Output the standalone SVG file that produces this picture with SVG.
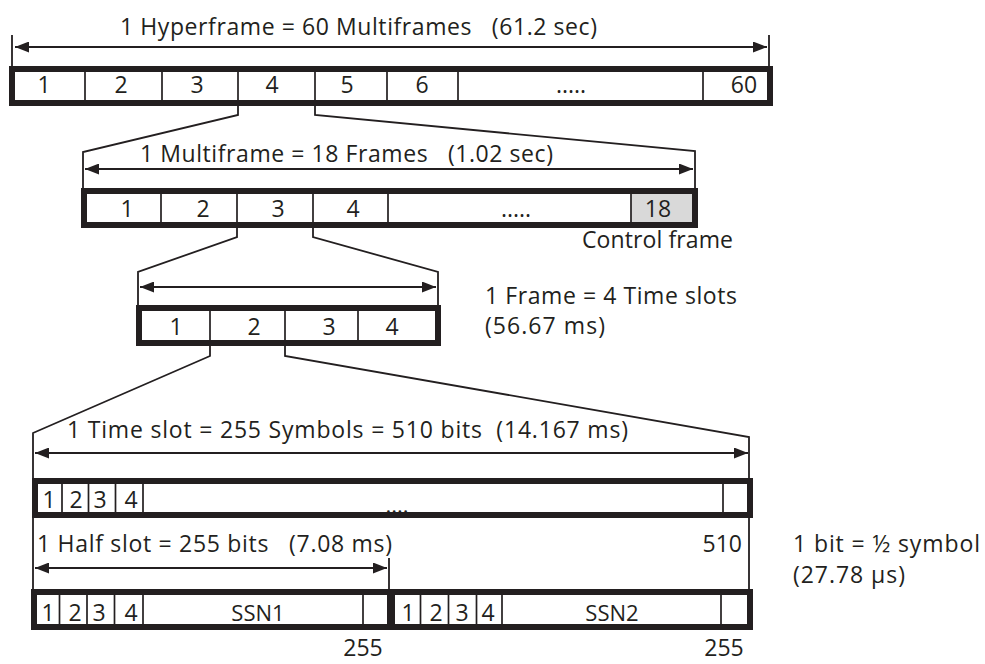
<svg xmlns="http://www.w3.org/2000/svg" width="985" height="664" viewBox="0 0 985 664">
<style>
  .bar { fill: none; stroke: #231f20; stroke-width: 6; }
  .dv { stroke: #231f20; stroke-width: 1.7; fill: none; }
  .conn { fill: none; stroke: #231f20; stroke-width: 1.8; }
  .dim { stroke: #231f20; stroke-width: 2; marker-start: url(#ah); marker-end: url(#ah); }
  text { font-family: "Open Sans", "Liberation Sans", Arial, sans-serif; fill: #231f20; }
  .lbl { font-size: 23px; }
  .cell { font-size: 23px; text-anchor: middle; }
  .sm { font-size: 23px; text-anchor: middle; }
  .ssn { font-size: 22px; text-anchor: middle; }
</style>
<defs>
  <marker id="ah" viewBox="0 0 14 11" refX="14" refY="5.5" markerWidth="14" markerHeight="11" markerUnits="userSpaceOnUse" orient="auto-start-reverse">
    <path d="M0,0 L14,5.5 L0,11 z" fill="#231f20"/>
  </marker>
</defs>
<rect width="985" height="664" fill="#ffffff"/>

<g id="connectors">
  <path class="conn" d="M12,35 V66 M769,35 V66"/>
  <line class="dim" x1="15" y1="47" x2="767" y2="47"/>
  <polyline class="conn" points="238,106 238,115 83,152 83,188"/>
  <polyline class="conn" points="315,106 315,115 695,151 695,188"/>
  <line class="dim" x1="85" y1="169" x2="693" y2="169"/>
  <polyline class="conn" points="237,228 237,237 138,272 138,305"/>
  <polyline class="conn" points="313,228 313,237 438,272 438,305"/>
  <line class="dim" x1="140" y1="287" x2="436" y2="287"/>
  <polyline class="conn" points="210,346 210,356 33,433 33,589"/>
  <polyline class="conn" points="285,346 285,356 749,437 749,589"/>
  <line class="dim" x1="35" y1="453" x2="748" y2="453"/>
  <path class="conn" d="M389,558 V589"/>
  <line class="dim" x1="35" y1="568" x2="387" y2="568"/>
</g>

<g id="hyperframe">
  <text class="lbl" x="120" y="35" xml:space="preserve" textLength="477">1 Hyperframe = 60 Multiframes   (61.2 sec)</text>
  <rect x="12" y="69" width="758" height="34" fill="#ffffff"/>
  <path class="dv" d="M85,69 V103 M162,69 V103 M238,69 V103 M315,69 V103 M387,69 V103 M458,69 V103 M703,69 V103"/>
  <text class="cell" x="44" y="93">1</text>
  <text class="cell" x="121" y="93">2</text>
  <text class="cell" x="197" y="93">3</text>
  <text class="cell" x="272" y="93">4</text>
  <text class="cell" x="347" y="93">5</text>
  <text class="cell" x="422" y="93">6</text>
  <text class="cell" x="571" y="93">.....</text>
  <text class="cell" x="744" y="93">60</text>
  <rect class="bar" x="12" y="69" width="758" height="34"/>
</g>

<g id="multiframe">
  <text class="lbl" x="140" y="162" xml:space="preserve" textLength="413">1 Multiframe = 18 Frames   (1.02 sec)</text>
  <rect x="84" y="191" width="611" height="34" fill="#ffffff"/>
  <rect x="631" y="191" width="64" height="34" fill="#d9d9d9"/>
  <path class="dv" d="M161,191 V225 M237,191 V225 M313,191 V225 M388,191 V225 M631,191 V225"/>
  <text class="cell" x="127" y="217">1</text>
  <text class="cell" x="203" y="217">2</text>
  <text class="cell" x="278" y="217">3</text>
  <text class="cell" x="353" y="217">4</text>
  <text class="cell" x="516" y="217">.....</text>
  <text class="cell" x="658" y="217">18</text>
  <rect class="bar" x="84" y="191" width="611" height="34"/>
  <text class="lbl" x="582" y="248" textLength="151">Control frame</text>
</g>

<g id="frame">
  <rect x="139" y="308" width="299" height="35" fill="#ffffff"/>
  <path class="dv" d="M210,308 V343 M285,308 V343 M358,308 V343"/>
  <text class="cell" x="176" y="335">1</text>
  <text class="cell" x="254" y="335">2</text>
  <text class="cell" x="329" y="335">3</text>
  <text class="cell" x="392" y="335">4</text>
  <rect class="bar" x="139" y="308" width="299" height="35"/>
  <text class="lbl" x="485" y="304" textLength="252">1 Frame = 4 Time slots</text>
  <text class="lbl" x="485" y="334" textLength="120">(56.67 ms)</text>
</g>

<g id="timeslot">
  <text class="lbl" x="67" y="438" xml:space="preserve" textLength="561">1 Time slot = 255 Symbols = 510 bits  (14.167 ms)</text>
  <rect x="35" y="481" width="715" height="34" fill="#ffffff"/>
  <path class="dv" d="M62,481 V515 M88.5,481 V515 M115.5,481 V515 M143,481 V515 M723,481 V515"/>
  <text class="sm" x="49" y="508">1</text>
  <text class="sm" x="76" y="508">2</text>
  <text class="sm" x="100" y="508">3</text>
  <text class="sm" x="131" y="508">4</text>
  <text class="ssn" x="397" y="513">....</text>
  <rect class="bar" x="35" y="481" width="715" height="34"/>
</g>

<g id="halfslot">
  <text class="lbl" x="37" y="552" xml:space="preserve" textLength="355">1 Half slot = 255 bits   (7.08 ms)</text>
  <text class="lbl" x="742" y="552" text-anchor="end">510</text>
  <text class="lbl" x="793" y="552" textLength="187">1 bit = ½ symbol</text>
  <text class="lbl" x="793" y="583" textLength="112">(27.78 µs)</text>
  <rect x="34" y="592" width="716" height="35" fill="#ffffff"/>
  <path class="dv" d="M59.5,592 V627 M87,592 V627 M114.5,592 V627 M143,592 V627 M363,592 V627 M420.5,592 V627 M448.5,592 V627 M476.5,592 V627 M502,592 V627 M721,592 V627"/>
  <text class="sm" x="48" y="621">1</text>
  <text class="sm" x="75" y="621">2</text>
  <text class="sm" x="99" y="621">3</text>
  <text class="sm" x="131" y="621">4</text>
  <text class="ssn" x="258" y="621">SSN1</text>
  <text class="sm" x="408" y="621">1</text>
  <text class="sm" x="436" y="621">2</text>
  <text class="sm" x="462" y="621">3</text>
  <text class="sm" x="488" y="621">4</text>
  <text class="ssn" x="612" y="621">SSN2</text>
  <rect x="387" y="592" width="8" height="35" fill="#231f20"/>
  <rect class="bar" x="34" y="592" width="716" height="35"/>
  <text class="lbl" x="363" y="656" text-anchor="middle">255</text>
  <text class="lbl" x="724" y="656" text-anchor="middle">255</text>
</g>
</svg>
